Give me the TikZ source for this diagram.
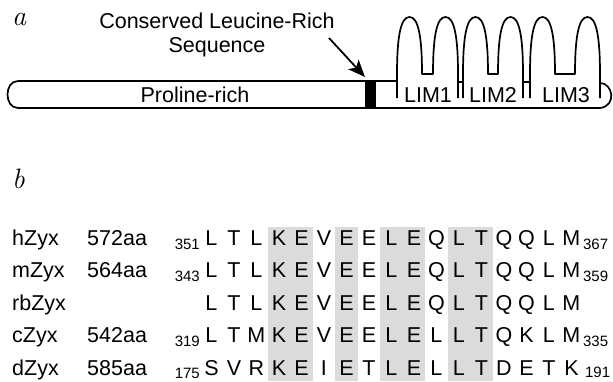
\documentclass[tikz,border=0pt]{standalone}
\usepackage{fontspec}
\setsansfont{Liberation Sans}
\usetikzlibrary{arrows.meta}
\tikzstyle{lbl} = [font=\sffamily\fontsize{21.5}{24}\selectfont, inner sep=0pt]
\tikzstyle{sub} = [font=\sffamily\fontsize{15}{17}\selectfont, inner sep=0pt]
\tikzstyle{panel} = [font=\itshape\fontsize{28}{30}\selectfont, inner sep=0pt]
\tikzstyle{dom} = [line width=1.7pt, line join=round]
\tikzstyle{cons} = [fill=black!14, draw=none]
\newcommand{\resrow}[1]{\foreach \res in {#1}{\makebox[22.5pt]{\res}}}

\begin{document}
\begin{tikzpicture}[x=1pt,y=-1pt,>=latex]
    \useasboundingbox (0,0) rectangle (613,381);

    % a: domain structure
    \node [panel, anchor=base west] (pa) at (12,25) {a};
    \node [lbl, align=center, anchor=north] (conslbl) at (217,12.5) {Conserved Leucine-Rich\\Sequence};
    \node [fill=black, inner sep=0pt, minimum width=11pt, minimum height=27pt, anchor=north west] (leu) at (365,81) {};
    \coordinate (arrtail) at (329,38);
    \draw [line width=1.8pt, -{Stealth[length=17pt,width=14pt,inset=4pt]}] (arrtail) -- ([yshift=4pt]leu.north west);

    \draw [dom] (397,81) -- (18,81) .. controls (4,81) and (4,108) .. (18,108) -- (600,108);
    \draw [dom] (600,83) .. controls (613,83) and (617,106) .. (600,108);
    \foreach \x/\f in {397/11, 463/10, 530/20}
        \draw [dom] (\x,98) -- ++(0,-24)
            .. controls +(0,-39) and +(-8.5,0) .. ++(12.5,-57)
            .. controls +(8.5,0) and +(0,-39) .. ++(12.5,57)
            -- ++(\f,0)
            .. controls +(0,-39) and +(-8.5,0) .. ++(12.5,-57)
            .. controls +(8.5,0) and +(0,-39) .. ++(12.5,57)
            -- ++(0,24);
    \draw [dom] (458,82) -- (463,82);
    \draw [dom] (523,82) -- (530,82);

    \node [lbl, anchor=base] (pro) at (195,102) {Proline-rich};
    \node [lbl, anchor=base] (lim1) at (428,102) {LIM1};
    \node [lbl, anchor=base] (lim2) at (493,102) {LIM2};
    \node [lbl, anchor=base] (lim3) at (566,102) {LIM3};

    % b: alignment
    \node [panel, anchor=base west] (pb) at (12,188) {b};
    \foreach \a/\b in {267.5/312.5, 335/357.5, 380/425, 447.5/492.5}
        \fill [cons] (\a,227) rectangle (\b,381);

    \node [lbl, anchor=base west] (hname) at (12,245) {hZyx};
    \node [lbl, anchor=base west] (hlen) at (87,245) {572aa};
    \node [lbl, anchor=base west] (hseq) at (200,245) {\resrow{L,T,L,K,E,V,E,E,L,E,Q,L,T,Q,Q,L,M}};
    \node [sub, anchor=base east] (hfrom) at ([yshift=-4pt]hseq.base west) {351};
    \node [sub, anchor=base west] (hto) at ([yshift=-4pt]hseq.base east) {367};

    \node [lbl, anchor=base west] (mname) at (12,277.5) {mZyx};
    \node [lbl, anchor=base west] (mlen) at (87,277.5) {564aa};
    \node [lbl, anchor=base west] (mseq) at (200,277.5) {\resrow{L,T,L,K,E,V,E,E,L,E,Q,L,T,Q,Q,L,M}};
    \node [sub, anchor=base east] (mfrom) at ([yshift=-4pt]mseq.base west) {343};
    \node [sub, anchor=base west] (mto) at ([yshift=-4pt]mseq.base east) {359};

    \node [lbl, anchor=base west] (rbname) at (12,310) {rbZyx};
    \node [lbl, anchor=base west] (rbseq) at (200,310) {\resrow{L,T,L,K,E,V,E,E,L,E,Q,L,T,Q,Q,L,M}};

    \node [lbl, anchor=base west] (cname) at (12,342.5) {cZyx};
    \node [lbl, anchor=base west] (clen) at (87,342.5) {542aa};
    \node [lbl, anchor=base west] (cseq) at (200,342.5) {\resrow{L,T,M,K,E,V,E,E,L,E,L,L,T,Q,K,L,M}};
    \node [sub, anchor=base east] (cfrom) at ([yshift=-4pt]cseq.base west) {319};
    \node [sub, anchor=base west] (cto) at ([yshift=-4pt]cseq.base east) {335};

    \node [lbl, anchor=base west] (dname) at (12,375) {dZyx};
    \node [lbl, anchor=base west] (dlen) at (87,375) {585aa};
    \node [lbl, anchor=base west] (dseq) at (200,375) {\resrow{S,V,R,K,E,I,E,T,L,E,L,L,T,D,E,T,K}};
    \node [sub, anchor=base east] (dfrom) at ([yshift=-3pt]dseq.base west) {175};
    \node [sub, anchor=base west] (dto) at ([xshift=2pt,yshift=-2pt]dseq.base east) {191};
\end{tikzpicture}
\end{document}
